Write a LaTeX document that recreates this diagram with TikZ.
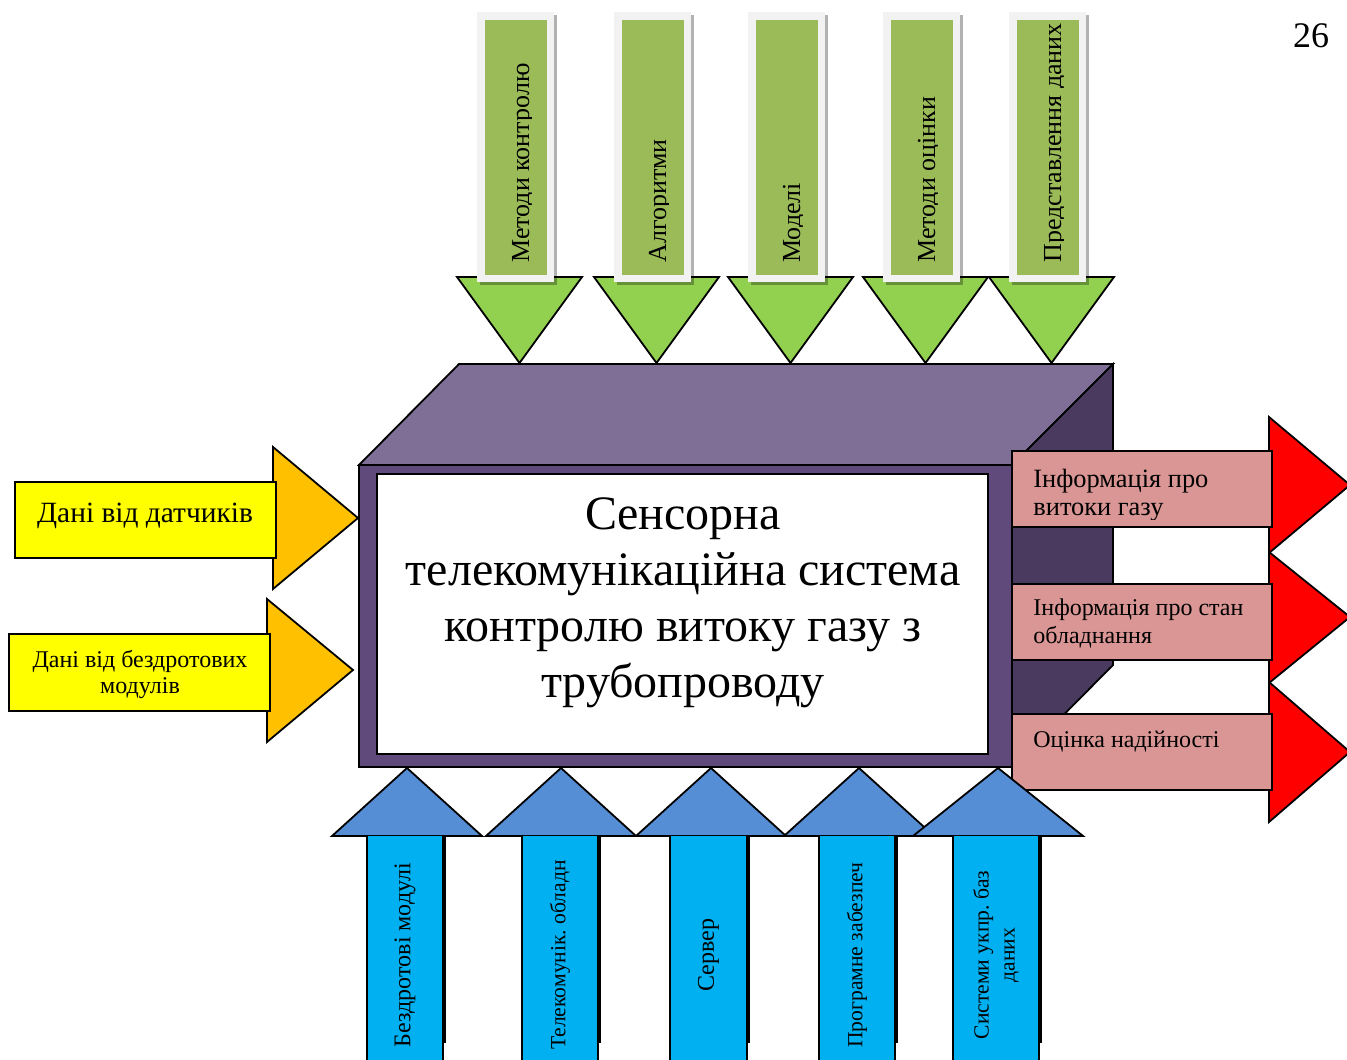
\documentclass[tikz,border=0pt]{standalone}
\usepackage{fontspec}
\setmainfont{Liberation Serif}
\frenchspacing

\definecolor{cubetop}{HTML}{7F6F96}
\definecolor{cubefront}{HTML}{5F4A7B}
\definecolor{cubeside}{HTML}{4A3A60}
\definecolor{leafgreen}{HTML}{92D050}
\definecolor{olivegreen}{HTML}{9BBB59}
\definecolor{framegray}{HTML}{F2F2F2}
\definecolor{amber}{HTML}{FFC000}
\definecolor{lemon}{HTML}{FFFF00}
\definecolor{rosepink}{HTML}{D99694}
\definecolor{skyblue}{HTML}{00B0F0}
\definecolor{steelblue}{HTML}{558ED5}

\begin{document}
\begin{tikzpicture}[x=0.5pt,y=-0.5pt,line join=miter,
  outl/.style={draw=black,line width=0.9pt},
  lbl/.style={inner sep=0pt,text=black},
  toplbl/.style={lbl,rotate=90,anchor=base west,font=\fontsize{13}{15}\selectfont},
  botlbl/.style={lbl,rotate=90,anchor=center,align=center,font=\fontsize{12}{13}\selectfont},
  outlbl/.style={lbl,anchor=base west,align=left,font=\fontsize{12}{14}\selectfont},
  shade/.style={fill=black,fill opacity=0.3}]
\useasboundingbox (0,0) rectangle (1347,1059);
\clip (0,0) rectangle (1347,1059);

% --- the system block drawn as a box in perspective
\filldraw[fill=cubetop,outl] (359,465) -- (459,364) -- (1113,364) -- (1012,465) -- cycle;
\filldraw[fill=cubeside,outl] (1012,465) -- (1113,364) -- (1113,665) -- (1012,767) -- cycle;
\filldraw[fill=cubefront,outl] (359,465) rectangle (1012,767);
\filldraw[fill=white,outl] (377,474) rectangle (988,754);
\node[lbl,align=center,font=\fontsize{24}{28}\selectfont] (title) at (683,603)
  {Сенсорна\\телекомунікаційна система\\контролю витоку газу з\\трубопроводу};

% --- inputs from above: methods and models
\foreach \T in {457,594,728,863,989}
  \filldraw[fill=leafgreen,outl] (\T,277) -- ({\T+125},277) -- ({\T+62.5},363) -- cycle;
\foreach \L/\txt [count=\i] in {477/Методи контролю,614/Алгоритми,748/Моделі,
                                883/Методи оцінки,1009/Представлення  даних}{
  \fill[shade] ({\L+3},15) rectangle ({\L+80},285);
  \fill[framegray] (\L,12) rectangle ({\L+77},282);
  \fill[olivegreen] ({\L+8},20) rectangle ({\L+70},275);
  \begin{scope}
    \clip ({\L+8},20) rectangle ({\L+54},275);
    \node[toplbl] (top\i) at ({\L+52},263) {\txt};
  \end{scope}
}

% --- inputs from the left: data sources
\filldraw[fill=amber,outl] (273,447) -- (358,518) -- (273,589) -- cycle;
\filldraw[fill=lemon,outl] (15,482) rectangle (276,558);
\node[lbl,anchor=base,font=\fontsize{14.7}{17}\selectfont] (in1) at (145,522) {Дані від датчиків};
\filldraw[fill=amber,outl] (267,599) -- (353,670) -- (267,742) -- cycle;
\filldraw[fill=lemon,outl] (9,634) rectangle (270,711);
\node[lbl,anchor=base,align=center,font=\fontsize{12}{13}\selectfont] (in2) at (140,693)
  {Дані від бездротових\\модулів};

% --- outputs to the right
\filldraw[fill=red,outl] (1269,417) -- (1350,485) -- (1269,553) -- cycle;
\filldraw[fill=red,outl] (1269,552) -- (1350,617) -- (1269,683) -- cycle;
\filldraw[fill=red,outl] (1269,682) -- (1350,752) -- (1269,822) -- cycle;
\filldraw[fill=rosepink,outl] (1012,451) rectangle (1272,527);
\filldraw[fill=rosepink,outl] (1012,584) rectangle (1272,660);
\filldraw[fill=rosepink,outl] (1012,714) rectangle (1272,790);
\begin{scope}
  \clip (1012,451) rectangle (1272,519);
  \node[outlbl,font=\fontsize{13.2}{14}\selectfont] (out1) at (1033,515)
    {Інформація про\\витоки газу};
\end{scope}
\node[outlbl] (out2) at (1033,643) {Інформація про стан\\обладнання};
\node[outlbl] (out3) at (1033,747) {Оцінка надійності};

% --- supporting means from below
\filldraw[fill=steelblue,outl] (332,836) -- (407,768) -- (482,836) -- cycle;
\filldraw[fill=steelblue,outl] (486,836) -- (561,768) -- (636,836) -- cycle;
\filldraw[fill=steelblue,outl] (636,836) -- (711,768) -- (786,836) -- cycle;
\filldraw[fill=steelblue,outl] (784,836) -- (859,768) -- (934,836) -- cycle;
\filldraw[fill=steelblue,outl] (913,836) -- (998,768) -- (1083,836) -- cycle;
\foreach \a/\b/\fs/\txt [count=\i] in {367/443/12/Бездротові модулі,
    522/598/10.8/Телекомунік. обладн,
    670/747/12/Сервер,
    819/895/10.8/Програмне забезпеч,
    953/1039/10.8/{Системи укпр. баз\\даних}}{
  \fill[black] (\b,836) rectangle ({\b+3},1043);
  \fill[skyblue] (\a,836) rectangle (\b,1070);
  \draw[outl] (\a,836) -- (\a,1070);
  \draw[outl] (\b,836) -- (\b,1070);
  \node[botlbl,font=\fontsize{\fs}{13}\selectfont] (bot\i) at ({(\a+\b)/2},955) {\txt};
}

% --- page number
\node[lbl,font=\fontsize{18}{20}\selectfont] (pagenum) at (1311,36) {26};
\end{tikzpicture}
\end{document}
